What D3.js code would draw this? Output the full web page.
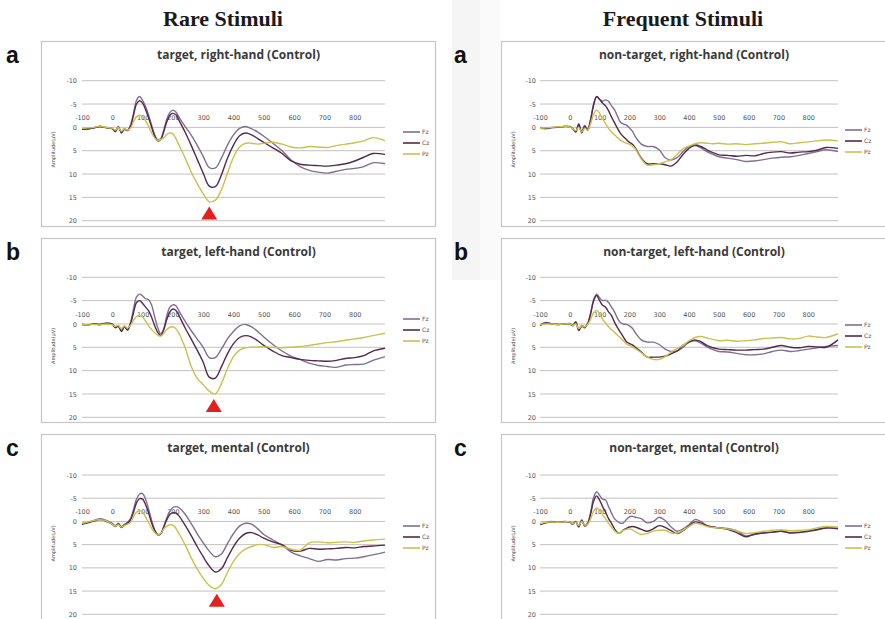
<!DOCTYPE html>
<meta charset="utf-8">
<title>ERP waveforms</title>
<script src="https://cdn.jsdelivr.net/npm/d3@7"></script>
<style>
  body { margin: 0; background: #fff; }
  svg { display: block; }
</style>
<body>
<div id="chart"></div>
<script>
// sample times (ms)
var times = [-100,-80,-60,-40,-20,0,10,20,30,40,50,60,70,80,90,100,110,120,130,140,150,160,170,180,190,200,210,220,
  240,260,280,300,320,340,360,380,400,420,440,460,480,500,530,560,590,620,650,680,710,740,770,800,830,860,900];

var columnTitles = ["Rare Stimuli", "Frequent Stimuli"];
var rowLetters = ["a", "b", "c"];
var panelTitles = [
  ["target, right-hand (Control)", "target, left-hand (Control)", "target, mental (Control)"],
  ["non-target, right-hand (Control)", "non-target, left-hand (Control)", "non-target, mental (Control)"]
];
var channels = ["Fz", "Cz", "Pz"];
var yTicks = [-10, -5, 0, 5, 10, 15, 20];
var xTicks = [-100, 0, 100, 200, 300, 400, 500, 600, 700, 800];
var p300Times = [320, 335, 345];   // red markers, rare stimuli only

// amplitudes (uV), one value per entry of times
var rareA_Fz = [0.3,0.4,0.1,-0.2,0,0.2,0.8,-0.2,1.0,0.3,0.6,-0.5,-3.0,-5.8,-6.6,-5.8,-4.4,-2.6,-0.4,1.6,2.7,2.4,0.5,-1.8,-3.2,-3.7,-3.3,-2.2,
  -0.2,1.6,3.8,6.2,8.6,8.7,6.6,3.8,1.6,0.2,-0.2,0.3,1.0,1.9,3.4,5.0,7.0,8.4,9.2,9.6,9.8,9.4,9.0,8.8,8.4,7.6,7.8];
var rareA_Cz = [0.4,0.3,0.1,-0.2,0.1,0.3,0.9,-0.1,1.2,0.4,0.7,-0.2,-2.6,-5.0,-5.7,-5.2,-3.8,-2.0,0.0,1.9,2.9,2.6,0.9,-1.2,-2.6,-3.0,-2.7,-1.5,
  1.0,3.8,6.8,9.8,12.6,12.7,10.2,6.6,3.8,1.8,1.2,1.6,2.4,3.2,4.4,5.6,7.2,7.9,8.1,8.2,8.3,8.1,7.8,7.2,6.4,5.6,5.8];
var rareA_Pz = [0.2,0.1,0.0,-0.3,0.0,0.2,0.6,0.0,0.8,0.3,0.6,0.2,-1.2,-2.3,-2.6,-2.3,-1.4,-0.2,1.2,2.3,2.8,2.6,2.2,1.5,1.2,1.4,2.4,3.8,
  6.5,9.5,12.0,14.2,15.9,15.6,13.4,9.8,6.4,4.2,3.4,3.4,3.6,3.4,3.2,3.6,4.2,4.4,4.1,4.2,4.3,3.9,3.6,3.3,2.9,2.2,2.9];

var rareB_Fz = [0.1,0.2,0.0,0.1,-0.2,0.0,0.6,0.4,1.4,0.5,1.2,-0.3,-3.2,-5.8,-6.4,-6.0,-5.4,-5.2,-4.0,-1.5,0.8,2.1,1.0,-1.8,-3.6,-4.1,-3.9,-2.8,
  -0.6,1.4,3.2,5.0,7.2,7.2,5.4,3.2,1.6,0.4,0.1,0.6,1.6,2.8,4.4,5.8,6.9,7.6,8.4,8.9,9.1,9.3,8.8,8.7,8.6,7.8,7.0];
var rareB_Cz = [0.1,0.2,0.0,0.1,-0.1,0.1,0.8,0.5,1.6,0.6,1.3,0.0,-2.4,-4.6,-5.0,-4.4,-3.6,-2.8,-1.4,0.4,1.8,2.5,1.2,-1.0,-2.6,-3.2,-2.9,-1.8,
  0.8,3.2,5.6,8.2,11.4,11.6,9.2,6.4,4.2,2.9,2.5,2.8,3.6,4.6,5.8,6.8,7.2,7.6,7.8,7.9,8.0,7.8,7.4,7.2,6.8,5.8,5.2];
var rareB_Pz = [0.1,0.2,0.1,0.2,0.0,0.2,0.5,0.3,1.0,0.4,0.9,0.3,-0.8,-1.6,-1.8,-1.5,-0.6,0.4,1.2,1.9,2.4,2.6,2.0,1.2,0.7,0.6,1.0,2.0,
  5.0,9.0,11.6,13.0,14.4,15.0,12.8,9.6,7.0,5.6,5.1,5.0,4.9,4.9,5.0,5.1,5.0,4.8,4.6,4.3,4.0,3.8,3.5,3.2,2.9,2.5,2.0];

var rareC_Fz = [0.5,0.2,-0.2,-0.6,-0.2,0.4,0.9,0.4,1.1,0.6,0.2,-0.6,-2.6,-4.8,-5.9,-6.0,-4.8,-2.6,-0.2,1.8,2.8,2.6,1.0,-0.8,-2.2,-3.0,-3.2,-3.0,
  -1.6,0.4,2.6,4.6,6.4,7.6,7.0,4.8,2.6,1.0,0.4,0.6,1.6,2.8,4.0,5.1,6.6,7.4,8.0,8.6,8.2,8.3,8.0,7.9,7.6,7.2,6.6];
var rareC_Cz = [0.6,0.3,-0.1,-0.4,0.0,0.6,1.1,0.6,1.3,0.8,0.4,-0.3,-2.0,-4.0,-4.9,-4.8,-3.6,-1.8,0.4,2.0,2.9,2.7,1.2,-0.4,-1.5,-1.9,-1.8,-1.2,
  0.8,3.0,5.4,7.6,9.6,10.9,10.2,7.8,5.4,3.6,2.6,2.4,2.9,3.6,4.4,5.0,6.2,6.4,5.8,6.0,5.9,5.8,5.6,5.7,5.4,5.3,5.1];
var rareC_Pz = [0.4,0.1,-0.2,-0.4,-0.1,0.6,1.0,0.7,1.2,0.9,0.6,0.2,-1.0,-2.0,-2.3,-2.0,-1.0,0.3,1.5,2.4,2.9,2.6,1.6,1.0,0.7,0.8,1.5,2.6,
  5.0,7.8,10.2,12.2,13.8,14.5,13.6,11.0,8.6,6.9,5.9,5.4,5.0,5.0,5.6,5.4,6.0,6.2,4.6,4.4,4.6,4.5,4.4,4.5,4.2,4.0,3.8];

var freqA_Fz = [0.2,0.3,0.1,0.0,-0.2,-0.2,0.2,0.8,-0.8,1.0,-0.4,0.4,-1.8,-5.0,-6.6,-6.0,-5.6,-5.9,-5.6,-4.6,-3.8,-2.4,-1.1,-0.7,-0.5,0.1,0.8,2.0,
  3.6,4.1,4.1,4.8,6.5,7.0,6.5,5.2,4.1,3.9,4.4,5.2,5.8,6.3,6.6,6.9,7.3,7.2,6.9,6.6,6.4,6.3,6.0,5.6,5.2,4.8,5.2];
var freqA_Cz = [0.2,0.2,0.0,0.0,-0.2,-0.1,0.3,1.0,-0.6,1.2,-0.2,0.6,-1.6,-4.8,-6.6,-6.0,-5.2,-4.6,-3.6,-2.2,-1.0,0.2,1.3,2.0,2.6,3.2,3.6,4.4,
  6.6,7.8,7.8,7.8,8.0,8.3,7.4,5.8,4.5,3.8,4.1,4.8,5.4,5.9,6.0,6.2,6.0,6.1,5.6,5.3,5.2,5.5,5.3,5.2,4.9,4.3,4.5];
var freqA_Pz = [0.2,0.1,0.0,-0.1,-0.2,-0.1,0.3,0.7,0.0,1.0,0.2,0.6,-0.8,-2.8,-3.7,-3.0,-1.8,-0.8,0.2,1.0,1.6,2.2,2.8,3.1,3.4,3.6,4.0,4.6,
  6.8,8.1,8.0,7.8,7.4,6.9,5.8,4.6,4.0,3.5,3.3,3.4,3.5,3.4,3.6,3.5,3.7,3.5,3.4,3.2,3.1,3.5,3.3,3.1,2.9,2.7,2.9];

var freqB_Fz = [0.3,-0.3,0.0,0.1,0.0,-0.1,0.2,-0.5,1.2,0.3,0.6,-0.2,-2.4,-5.2,-6.4,-5.6,-5.0,-5.1,-4.6,-3.6,-2.6,-1.2,-0.3,0.0,0.1,0.4,0.9,1.9,
  3.4,3.9,3.9,4.4,5.4,5.9,5.8,5.0,3.9,3.6,4.1,4.9,5.5,5.9,6.0,6.3,6.6,6.6,6.4,5.9,5.6,5.9,5.7,5.4,5.1,4.8,4.6];
var freqB_Cz = [0.3,-0.2,0.0,0.1,0.0,0.0,0.4,-0.4,1.4,0.5,0.8,0.0,-2.2,-5.0,-6.1,-5.0,-4.0,-3.6,-2.6,-1.8,-0.4,0.8,1.8,2.8,3.8,4.2,4.5,5.0,
  6.0,7.1,7.1,7.1,6.9,6.4,5.8,4.6,3.9,3.4,3.8,4.6,5.1,5.4,5.5,5.6,5.6,5.5,5.4,5.0,4.6,5.0,5.1,4.8,4.9,5.0,3.4];
var freqB_Pz = [0.2,0.0,0.0,0.1,0.0,0.0,0.3,0.0,1.0,0.4,0.6,0.1,-1.0,-2.4,-2.9,-2.2,-1.0,-0.2,0.6,1.2,1.8,2.4,3.0,3.6,4.3,4.6,4.9,5.3,
  6.2,7.1,7.6,7.6,7.0,6.0,5.3,4.6,3.6,2.9,2.7,3.0,3.3,3.6,3.5,3.7,3.6,3.4,3.1,3.0,2.9,3.2,3.1,2.6,2.8,2.9,2.1];

var freqC_Fz = [0.6,0.2,0.0,0.2,0.0,0.1,0.4,0.0,1.0,-0.4,0.9,0.3,-2.0,-5.2,-6.4,-5.6,-4.8,-4.6,-3.2,-1.8,-0.6,0.0,0.4,0.3,-0.4,-1.0,-1.1,-0.9,
  -0.6,0.3,0.0,-0.9,-0.2,1.2,2.1,1.6,0.7,-0.4,0.0,0.9,1.2,1.4,1.5,2.0,3.1,2.8,2.5,2.3,2.1,2.4,2.3,2.1,1.7,1.4,1.4];
var freqC_Cz = [0.7,0.3,0.1,0.2,0.1,0.2,0.6,0.1,1.2,-0.2,1.0,0.5,-1.6,-4.4,-5.5,-4.6,-3.2,-2.0,-0.6,0.4,1.6,2.4,2.4,1.8,1.5,1.2,1.1,1.2,
  1.7,2.1,1.6,0.9,1.3,2.0,2.6,2.0,1.0,0.1,0.4,0.9,1.2,1.4,1.7,2.4,3.3,2.7,2.5,2.3,2.1,2.5,2.4,2.1,1.8,1.4,1.6];
var freqC_Pz = [0.5,0.2,0.1,0.2,0.1,0.1,0.5,0.2,0.9,0.0,0.8,0.6,-0.6,-2.2,-2.9,-2.4,-1.4,-0.6,0.4,1.2,2.0,2.5,2.3,1.9,1.7,1.6,1.8,2.2,
  2.8,2.6,2.1,1.9,1.9,2.5,2.5,1.9,1.1,0.4,0.6,1.1,1.3,1.4,1.6,2.0,2.6,2.4,2.1,1.9,1.8,2.0,1.9,1.8,1.4,1.1,1.2];

var seriesData = [
  [[rareA_Fz, rareA_Cz, rareA_Pz], [rareB_Fz, rareB_Cz, rareB_Pz], [rareC_Fz, rareC_Cz, rareC_Pz]],
  [[freqA_Fz, freqA_Cz, freqA_Pz], [freqB_Fz, freqB_Cz, freqB_Pz], [freqC_Fz, freqC_Cz, freqC_Pz]]
];

var colors = ["#7f6f92", "#55294a", "#c9c24c"];

// layout
var cols = [
  {box0: 41.5, box1: 435.5, px0: 82, px1: 385, tickX: 77, ytX: 55, legX: 403, letterX: 6, head: 223},
  {box0: 501.5, box1: 900, px0: 540, px1: 838, tickX: 536, ytX: 515, legX: 845, letterX: 454, head: 683}
];
var rows = [
  {box0: 41.5, box1: 226.5, py0: 80.7, py1: 220.7, title: 59, legY: [143, 141]},
  {box0: 238.5, box1: 422.5, py0: 277.3, py1: 417.3, title: 256, legY: [330, 336]},
  {box0: 434.5, box1: 640, py0: 475, py1: 614.3, title: 452, legY: [537, 537]}
];

var W = 885, H = 619;
var svg = d3.select("#chart").append("svg")
    .attr("width", W)
    .attr("height", H);

svg.append("rect").attr("width", W).attr("height", H).attr("fill", "#fff");

// faint scan strip between the columns
svg.append("rect").attr("x", 452).attr("y", 0).attr("width", 28).attr("height", 280).attr("fill", "#f5f5f5");
svg.append("rect").attr("x", 480).attr("y", 0).attr("width", 20).attr("height", 280).attr("fill", "#fafafa");

// column headings
cols.forEach(function(c, ci) {
  svg.append("text")
    .attr("x", c.head)
    .attr("y", 26)
    .attr("text-anchor", "middle")
    .style("font-family", "'Liberation Serif', 'DejaVu Serif', serif")
    .style("font-weight", "bold")
    .style("font-size", "22px")
    .attr("fill", "#1a1a1a")
    .text(columnTitles[ci]);
});

cols.forEach(function(c, ci) {
  rows.forEach(function(r, ri) {
    var g = svg.append("g");

    g.append("rect")
      .attr("x", c.box0).attr("y", r.box0)
      .attr("width", c.box1 - c.box0).attr("height", r.box1 - r.box0)
      .attr("fill", "#fff")
      .attr("stroke", "#c6c6c6")
      .attr("stroke-width", 1.2);

    // row letter
    svg.append("text")
      .attr("x", c.letterX)
      .attr("y", r.box0 + 21)
      .style("font-family", "'Liberation Sans', Arial, sans-serif")
      .style("font-weight", "bold")
      .style("font-size", "23px")
      .attr("fill", "#111")
      .text(rowLetters[ri]);

    // panel title
    g.append("text")
      .attr("x", (c.px0 + c.px1) / 2 + 5)
      .attr("y", r.title)
      .attr("text-anchor", "middle")
      .style("font-family", "'Open Sans', 'DejaVu Sans', sans-serif")
      .style("font-weight", "bold")
      .style("font-size", "12px")
      .attr("fill", "#3a3a3a")
      .text(panelTitles[ci][ri]);

    var x = d3.scaleLinear().domain([-100, 900]).range([c.px0, c.px1]);
    var y = d3.scaleLinear().domain([-10, 20]).range([r.py0, r.py1]);

    // gridlines
    g.append("g")
      .selectAll("line")
      .data(yTicks)
      .enter()
      .append("line")
      .attr("x1", c.px0).attr("x2", c.px1)
      .attr("y1", function(d) { return y(d); })
      .attr("y2", function(d) { return y(d); })
      .attr("stroke", "#c4c0c0")
      .attr("stroke-width", 1);

    // y axis labels
    var yAxis = d3.axisLeft(y).tickValues(yTicks).tickSize(0).tickPadding(0)
      .tickFormat(function(d) { return String(d); });
    var ya = g.append("g")
      .attr("transform", "translate(" + c.tickX + ",0)")
      .call(yAxis);
    ya.select(".domain").remove();
    ya.selectAll("text")
      .style("font-family", "'DejaVu Sans', sans-serif")
      .style("font-size", "6.5px")
      .attr("fill", "#555");

    // x axis labels sit above the zero line
    var xAxis = d3.axisTop(x).tickValues(xTicks).tickSize(0).tickPadding(0)
      .tickFormat(function(d) { return String(d); });
    var xa = g.append("g")
      .attr("transform", "translate(0," + (y(0) - 7) + ")")
      .call(xAxis);
    xa.select(".domain").remove();
    xa.selectAll("text")
      .style("font-family", "'DejaVu Sans', sans-serif")
      .style("font-size", "6.5px")
      .attr("fill", "#555");

    // y axis title
    g.append("text")
      .attr("transform", "translate(" + c.ytX + "," + (y(0) + 22) + ") rotate(-90)")
      .attr("text-anchor", "middle")
      .style("font-family", "'DejaVu Sans', sans-serif")
      .style("font-size", "5px")
      .attr("fill", "#444")
      .text("Amplitude(μV)");

    // waveforms
    var line = d3.line()
      .x(function(d) { return x(d[0]); })
      .y(function(d) { return y(d[1]); })
      .curve(d3.curveCatmullRom.alpha(0.5));

    seriesData[ci][ri].forEach(function(vals, si) {
      g.append("path")
        .datum(d3.zip(times, vals))
        .attr("d", line)
        .attr("fill", "none")
        .attr("stroke", colors[si])
        .attr("stroke-width", 1.4)
        .attr("stroke-linejoin", "round");
    });

    // legend
    var ly = r.legY[ci];
    channels.forEach(function(ch, si) {
      var yy = ly + (si - 1) * 11;
      g.append("line")
        .attr("x1", c.legX).attr("x2", c.legX + 17)
        .attr("y1", yy).attr("y2", yy)
        .attr("stroke", colors[si])
        .attr("stroke-width", 1.6);
      g.append("text")
        .attr("x", c.legX + 19)
        .attr("y", yy + 2)
        .style("font-family", "'DejaVu Sans', sans-serif")
        .style("font-size", "6px")
        .attr("fill", "#555")
        .text(ch);
    });

    // P300 marker under the Pz peak (rare stimuli)
    if (ci === 0) {
      var pz = seriesData[ci][ri][2];
      var tx = x(p300Times[ri]);
      var top = y(d3.max(pz)) + 5;
      g.append("path")
        .attr("d", "M" + tx + "," + top + "L" + (tx + 8) + "," + (top + 13) + "L" + (tx - 8) + "," + (top + 13) + "Z")
        .attr("fill", "#e3201e");
    }
  });
});
</script>
</body>
